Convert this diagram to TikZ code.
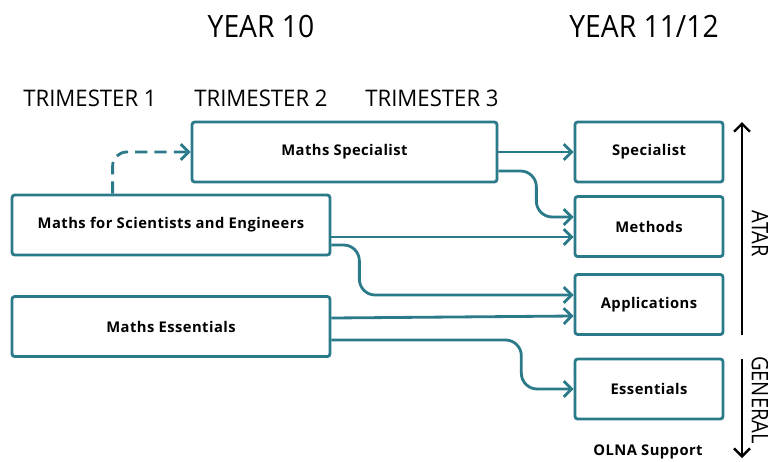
\documentclass[tikz,border=0pt]{standalone}
\usepackage{fontspec}
\setmainfont{Open Sans}
\newfontfamily\headfont[FakeStretch=0.92]{Open Sans}
\newfontfamily\termfont[FakeStretch=0.97]{Open Sans}
\newfontfamily\sidefont[FakeStretch=0.88]{Open Sans}
\newfontfamily\boxfont[LetterSpace=3]{Open Sans}
\usepackage{tikz}
\usetikzlibrary{positioning, arrows.meta, calc}
\definecolor{tealline}{RGB}{43,122,138}

\begin{document}
\begin{tikzpicture}[x=0.02cm, y=-0.02cm,
  course/.style={draw=tealline, line width=1.6pt, rounded corners=1.5pt, minimum height=1.2cm, inner sep=0pt, font=\boxfont\fontsize{8.4}{10}\selectfont\bfseries},
  wide/.style={course, minimum width=6.36cm},
  narrow/.style={course, minimum width=2.96cm},
  flow/.style={draw=tealline, line width=1.6pt, rounded corners=9pt, -{Straight Barb[length=4.5pt, width=9pt, line width=1.6pt]}},
  dashflow/.style={flow, dash pattern=on 7pt off 4pt},
  band/.style={line width=1.3pt, {Straight Barb[length=4.5pt, width=9pt, line width=1.4pt]}-},
  head/.style={font=\headfont\fontsize{17.5}{20}\selectfont},
  term/.style={font=\termfont\fontsize{13}{15}\selectfont},
  side/.style={font=\sidefont\fontsize{13}{15}\selectfont, rotate=-90}]
\useasboundingbox (0,0) rectangle (768,461);
% headings
\node[head] (y10) at (261,26) {YEAR 10};
\node[head] (y11) at (644,26) {YEAR 11/12};
\node[term] (t1) at (90,98) {TRIMESTER 1};
\node[term] (t2) at (261,98) {TRIMESTER 2};
\node[term] (t3) at (432,98) {TRIMESTER 3};
% year 10 courses
\node[course, minimum width=6.1cm] (spec10) at (344.5,152) {Maths Specialist};
\node[wide] (mse) at (171,225) {Maths for Scientists and Engineers};
\node[wide] (ess10) at (171,326.5) {Maths Essentials};
% year 11/12 courses
\node[narrow] (spec) at (649,152) {Specialist};
\node[narrow] (meth) at (649,226.5) {Methods};
\node[narrow] (appl) at (649,304.5) {Applications};
\node[narrow] (ess) at (649,389) {Essentials};
% pathways
\draw[dashflow, rounded corners=8pt] ([xshift=2.04cm]mse.north west) |- (spec10.west);
\draw[flow] (spec10.east) -- (spec.west);
\draw[flow] ([yshift=-0.38cm]spec10.east) -| ++(0.76cm,-0.92cm) -- ([yshift=0.19cm]meth.west);
\draw[flow] ([yshift=-0.24cm]mse.east) -- ([yshift=-0.24cm]mse.east -| meth.west);
\draw[flow] ([yshift=-0.4cm]mse.east) -| ++(0.56cm,-1cm) -- ([yshift=0.19cm]appl.west);
\draw[flow] ([yshift=0.17cm]ess10.east) -- ([yshift=-0.23cm]appl.west);
\draw[flow] ([yshift=-0.27cm]ess10.east) -| ++(3.8cm,-0.98cm) -- (ess.west);
% pathway bands
\coordinate (atartop) at (742,122);
\coordinate (atarbot) at (742,335);
\coordinate (gentop) at (742,359);
\coordinate (genbot) at (742,458);
\draw[band] (atartop) -- (atarbot);
\draw[band] (genbot) -- (gentop);
\node[side] (atar) at (760,234) {ATAR};
\node[side] (gen) at (760,400) {GENERAL};
\node[font=\boxfont\fontsize{8.4}{10}\selectfont\bfseries] (olna) at (648,452) {OLNA Support};
\end{tikzpicture}
\end{document}
